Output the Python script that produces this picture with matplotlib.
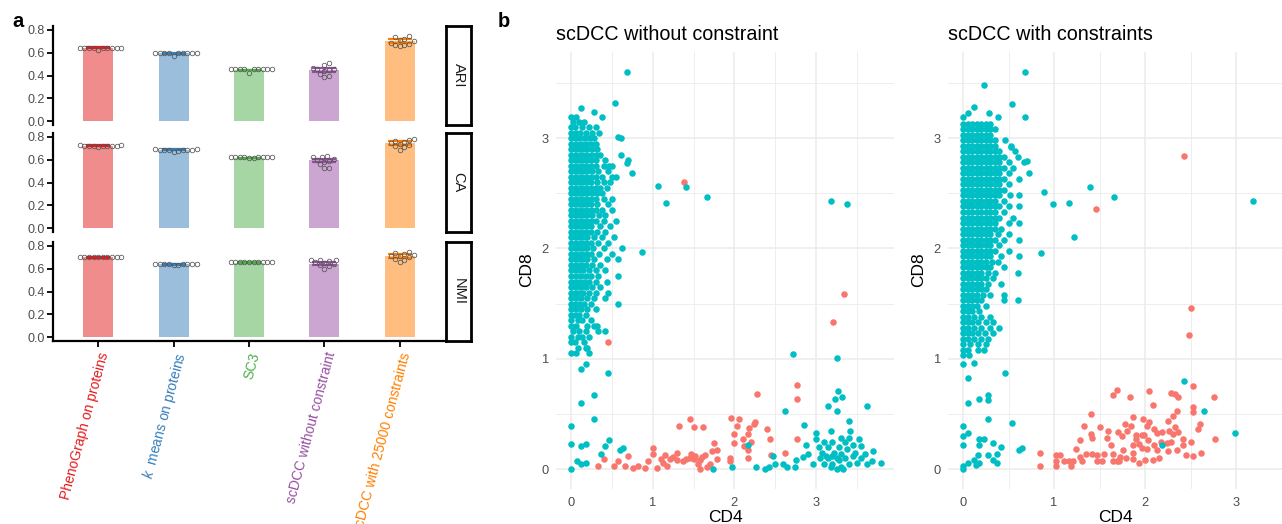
import numpy as np
import matplotlib
matplotlib.use("Agg")
import matplotlib.pyplot as plt

plt.rcParams['font.family'] = ['Liberation Sans', 'DejaVu Sans']
plt.rcParams['mathtext.fontset'] = 'custom'
plt.rcParams['mathtext.it'] = 'Liberation Sans:italic'
plt.rcParams['mathtext.rm'] = 'Liberation Sans'

W, H = 1282, 524

# ---------------- panel a data ----------------
methods = ["PhenoGraph on proteins", "$k$  means on proteins", "SC3",
           "scDCC without constraint", "scDCC with 25000 constraints"]
method_colors = ["#E41A1C", "#377EB8", "#4DAF4A", "#984EA3", "#FF7F00"]
metrics = ["ARI", "CA", "NMI"]

ari_mean = [0.644, 0.595, 0.448, 0.448, 0.703]
ca_mean = [0.723, 0.688, 0.615, 0.594, 0.747]
nmi_mean = [0.700, 0.639, 0.653, 0.645, 0.712]

ari_sd = [0.004, 0.004, 0.004, 0.015, 0.017]
ca_sd = [0.003, 0.004, 0.003, 0.014, 0.015]
nmi_sd = [0.003, 0.003, 0.003, 0.012, 0.015]

# per-run scores (10 runs per method)
ari_runs = [
    [0.645, 0.645, 0.646, 0.644, 0.645, 0.645, 0.646, 0.644, 0.645, 0.620],
    [0.595, 0.595, 0.596, 0.594, 0.595, 0.595, 0.596, 0.594, 0.595, 0.575],
    [0.455, 0.455, 0.456, 0.454, 0.455, 0.455, 0.456, 0.454, 0.455, 0.420],
    [0.510, 0.490, 0.465, 0.460, 0.455, 0.450, 0.440, 0.415, 0.400, 0.385],
    [0.750, 0.740, 0.720, 0.710, 0.700, 0.690, 0.680, 0.672, 0.665, 0.660],
]
ca_runs = [
    [0.725, 0.725, 0.726, 0.724, 0.725, 0.725, 0.726, 0.724, 0.725, 0.710],
    [0.690, 0.690, 0.691, 0.689, 0.690, 0.690, 0.691, 0.689, 0.680, 0.665],
    [0.622, 0.622, 0.623, 0.621, 0.622, 0.622, 0.623, 0.621, 0.618, 0.615],
    [0.630, 0.625, 0.620, 0.610, 0.600, 0.590, 0.580, 0.560, 0.530, 0.530],
    [0.780, 0.775, 0.765, 0.760, 0.750, 0.740, 0.730, 0.720, 0.710, 0.690],
]
nmi_runs = [
    [0.705, 0.705, 0.706, 0.704, 0.705, 0.705, 0.706, 0.704, 0.705, 0.700],
    [0.640, 0.640, 0.641, 0.639, 0.640, 0.640, 0.641, 0.639, 0.635, 0.630],
    [0.660, 0.660, 0.661, 0.659, 0.660, 0.660, 0.661, 0.659, 0.660, 0.658],
    [0.680, 0.680, 0.675, 0.670, 0.660, 0.650, 0.640, 0.630, 0.620, 0.600],
    [0.750, 0.740, 0.730, 0.720, 0.715, 0.710, 0.700, 0.690, 0.680, 0.660],
]

# ---------------- panel b data ----------------
# scDCC without constraint: dense CD8+ cluster, one row per CD8 level
wo_cluster_rows = [
    (3.19, [0.0, 0.06]),
    (3.15, [0.02, 0.1, 0.16]),
    (3.10, [0.0, 0.05, 0.14, 0.22, 0.3]),
    (3.05, [0.0, 0.06, 0.11, 0.18, 0.26, 0.34]),
    (3.00, [0.0, 0.05, 0.1, 0.16, 0.22, 0.28]),
    (2.95, [0.0, 0.06, 0.12, 0.18, 0.24, 0.3]),
    (2.90, [0.0, 0.05, 0.1, 0.15, 0.2, 0.26, 0.32]),
    (2.85, [0.0, 0.06, 0.12, 0.18, 0.24, 0.3, 0.36]),
    (2.80, [0.0, 0.05, 0.1, 0.15, 0.2, 0.25, 0.3, 0.42]),
    (2.75, [0.0, 0.06, 0.12, 0.18, 0.24, 0.3, 0.4, 0.46, 0.5]),
    (2.70, [0.0, 0.05, 0.1, 0.15, 0.2, 0.26, 0.33, 0.45]),
    (2.65, [0.0, 0.06, 0.12, 0.18, 0.24, 0.3, 0.38, 0.5, 0.55]),
    (2.60, [0.0, 0.05, 0.1, 0.15, 0.2, 0.25, 0.32, 0.4, 0.48]),
    (2.55, [0.0, 0.06, 0.12, 0.18, 0.24, 0.3, 0.36, 0.44]),
    (2.50, [0.0, 0.05, 0.1, 0.15, 0.2, 0.26, 0.32, 0.38]),
    (2.45, [0.0, 0.06, 0.12, 0.18, 0.24, 0.3, 0.4, 0.5]),
    (2.40, [0.0, 0.05, 0.1, 0.15, 0.2, 0.25, 0.32, 0.45]),
    (2.35, [0.0, 0.06, 0.12, 0.18, 0.24, 0.3, 0.38, 0.5]),
    (2.30, [0.0, 0.05, 0.1, 0.15, 0.2, 0.26, 0.34, 0.42]),
    (2.25, [0.0, 0.06, 0.12, 0.18, 0.24, 0.3, 0.4, 0.55]),
    (2.20, [0.0, 0.05, 0.1, 0.15, 0.2, 0.25, 0.35, 0.48]),
    (2.15, [0.0, 0.06, 0.12, 0.18, 0.24, 0.32, 0.42]),
    (2.10, [0.0, 0.05, 0.1, 0.15, 0.2, 0.28, 0.38, 0.52]),
    (2.05, [0.0, 0.06, 0.12, 0.18, 0.24, 0.33, 0.45]),
    (2.00, [0.0, 0.05, 0.1, 0.15, 0.2, 0.27, 0.4, 0.62]),
    (1.95, [0.0, 0.06, 0.12, 0.18, 0.24, 0.34, 0.5]),
    (1.90, [0.0, 0.05, 0.1, 0.15, 0.2, 0.28, 0.44, 0.58]),
    (1.85, [0.0, 0.06, 0.12, 0.18, 0.26, 0.36]),
    (1.80, [0.0, 0.05, 0.1, 0.15, 0.22, 0.3, 0.42]),
    (1.75, [0.0, 0.06, 0.12, 0.18, 0.25, 0.33, 0.58]),
    (1.70, [0.0, 0.05, 0.1, 0.16, 0.22, 0.3, 0.44]),
    (1.65, [0.0, 0.06, 0.12, 0.18, 0.26, 0.36]),
    (1.60, [0.0, 0.05, 0.1, 0.15, 0.22, 0.3, 0.45]),
    (1.55, [0.0, 0.06, 0.12, 0.2, 0.28, 0.42]),
    (1.50, [0.0, 0.05, 0.1, 0.16, 0.24, 0.58]),
    (1.45, [0.0, 0.06, 0.12, 0.2, 0.3]),
    (1.40, [0.0, 0.05, 0.1, 0.18]),
    (1.35, [0.0, 0.08, 0.14, 0.24]),
    (1.30, [0.0, 0.06, 0.2, 0.28, 0.32]),
    (1.25, [0.02, 0.1, 0.18, 0.33, 0.42]),
    (1.20, [0.0, 0.08, 0.14, 0.22]),
    (1.15, [0.0, 0.05, 0.16]),
    (1.10, [0.08, 0.18, 0.2]),
    (1.05, [0.0, 0.06, 0.22]),
]
wo_teal_pts = [
    (0.685, 3.6), (0.54, 3.32), (0.12, 3.27), (0.28, 3.24), (0.38, 3.19),
    (0.58, 3.01), (0.61, 3.0), (0.61, 2.85), (0.68, 2.77), (0.7, 2.8),
    (0.75, 2.68), (1.07, 2.57), (1.16, 2.41), (1.41, 2.56), (1.66, 2.47),
    (3.18, 2.43), (3.38, 2.4), (0.87, 1.97),
    (0.0, 0.0), (0.0, 0.23), (0.0, 0.39), (0.07, 0.07), (0.12, 0.05),
    (0.18, 0.06), (0.12, 0.21), (0.18, 0.23), (0.28, 0.45), (0.12, 0.6),
    (0.28, 0.67), (0.45, 0.87), (0.12, 0.91), (0.18, 0.95), (0.37, 0.14),
    (0.41, 0.21), (0.46, 0.26), (0.6, 0.17), (0.64, 0.19),
    (1.74, 0.0), (1.97, 0.02), (2.17, 0.22), (2.27, 0.02), (2.38, 0.0),
    (2.42, 0.02), (2.47, 0.12), (2.5, 0.05), (2.59, 0.05), (2.62, 0.53),
    (2.64, 0.02), (2.72, 1.04), (2.74, 0.02), (2.75, 0.08), (2.85, 0.4),
    (2.87, 0.22), (2.84, 0.11), (2.9, 0.14), (2.96, 0.05), (3.0, 0.33),
    (3.0, 0.27), (3.03, 0.2), (3.07, 0.15), (3.1, 0.25), (3.14, 0.57),
    (3.18, 0.35), (3.23, 0.64), (3.25, 0.53), (3.25, 1.01), (3.27, 0.71),
    (3.32, 0.65), (3.4, 0.44), (3.42, 0.35), (3.52, 0.27), (3.55, 0.21),
    (3.62, 0.57), (3.8, 0.06), (3.69, 0.16), (3.68, 0.07),
    (3.15, 0.1), (3.2, 0.05), (3.25, 0.0), (3.3, 0.02), (3.22, 0.15),
    (3.28, 0.2), (3.35, 0.1), (3.4, 0.05), (3.38, 0.18), (3.45, 0.12),
    (3.5, 0.06), (3.55, 0.1), (3.6, 0.14), (3.1, 0.05), (3.05, 0.1),
    (3.2, 0.25), (3.3, 0.28), (3.25, 0.1), (3.33, 0.0), (3.45, 0.22),
    (3.15, 0.2), (3.28, 0.08), (3.18, 0.02), (3.4, 0.28), (3.62, 0.05),
    (3.48, 0.15), (3.12, 0.12), (3.35, 0.25), (3.2, 0.12), (3.3, 0.14),
]
wo_red_pts = [
    (1.38, 2.6), (3.34, 1.59), (3.21, 1.33), (0.45, 1.15), (2.76, 0.76),
    (2.76, 0.64), (2.28, 0.68), (2.77, 0.27), (2.62, 0.15), (2.45, 0.13),
    (2.4, 0.36), (2.44, 0.27), (2.25, 0.43), (2.24, 0.41), (2.18, 0.37),
    (2.17, 0.32), (2.2, 0.25), (2.1, 0.27), (2.12, 0.21), (2.17, 0.17),
    (2.17, 0.1), (2.06, 0.45), (2.03, 0.39), (1.99, 0.32), (2.0, 0.24),
    (1.96, 0.46), (1.94, 0.1), (1.95, 0.07), (1.75, 0.24), (1.79, 0.17),
    (1.73, 0.16), (1.79, 0.09), (1.61, 0.38), (1.5, 0.38), (1.46, 0.45),
    (1.32, 0.39), (1.3, 0.15), (1.58, 0.0), (1.66, 0.02), (1.64, 0.13),
    (1.6, 0.11), (1.52, 0.12), (1.47, 0.14), (1.45, 0.1), (1.41, 0.09),
    (1.37, 0.07), (1.25, 0.11), (1.21, 0.09), (1.15, 0.13), (1.1, 0.09),
    (1.17, 0.03), (1.05, 0.01), (1.0, 0.19), (1.0, 0.14), (0.94, 0.07),
    (0.9, 0.01), (0.82, 0.03), (0.76, 0.01), (0.7, 0.12), (0.66, 0.03),
    (0.58, 0.07), (0.52, 0.03), (0.4, 0.09), (0.33, 0.03), (1.5, 0.09),
    (1.58, 0.08), (1.3, 0.08), (1.7, 0.05), (1.55, 0.05), (1.12, 0.06),
]

# scDCC with constraints
w_cluster_rows = [
    (3.13, [0.0, 0.05, 0.1, 0.15, 0.2, 0.25, 0.3]),
    (3.08, [0.0, 0.05, 0.1, 0.15, 0.2, 0.25, 0.3, 0.35]),
    (3.03, [0.0, 0.05, 0.1, 0.15, 0.2, 0.25, 0.3]),
    (2.98, [0.0, 0.05, 0.1, 0.15, 0.2, 0.25, 0.3, 0.35, 0.46]),
    (2.93, [0.0, 0.05, 0.1, 0.15, 0.2, 0.25, 0.3, 0.35, 0.53]),
    (2.88, [0.0, 0.05, 0.1, 0.15, 0.2, 0.25, 0.3, 0.35, 0.4, 0.57]),
    (2.83, [0.0, 0.05, 0.1, 0.15, 0.2, 0.25, 0.3, 0.35, 0.4, 0.45, 0.6]),
    (2.78, [0.0, 0.05, 0.1, 0.15, 0.2, 0.25, 0.3, 0.35, 0.4, 0.5, 0.67]),
    (2.73, [0.0, 0.05, 0.1, 0.15, 0.2, 0.25, 0.3, 0.35, 0.4, 0.45, 0.55]),
    (2.68, [0.0, 0.05, 0.1, 0.15, 0.2, 0.25, 0.3, 0.35, 0.4, 0.5, 0.73]),
    (2.63, [0.0, 0.05, 0.1, 0.15, 0.2, 0.25, 0.3, 0.35, 0.4, 0.45, 0.61]),
    (2.58, [0.0, 0.05, 0.1, 0.15, 0.2, 0.25, 0.3, 0.35, 0.4, 0.5]),
    (2.53, [0.0, 0.05, 0.1, 0.15, 0.2, 0.25, 0.3, 0.35, 0.4, 0.45]),
    (2.48, [0.0, 0.05, 0.1, 0.15, 0.2, 0.25, 0.3, 0.35, 0.4, 0.52, 0.61]),
    (2.43, [0.0, 0.05, 0.1, 0.15, 0.2, 0.25, 0.3, 0.35, 0.45]),
    (2.38, [0.0, 0.05, 0.1, 0.15, 0.2, 0.25, 0.3, 0.35, 0.4, 0.5, 0.61]),
    (2.33, [0.0, 0.05, 0.1, 0.15, 0.2, 0.25, 0.3, 0.35, 0.45]),
    (2.28, [0.0, 0.05, 0.1, 0.15, 0.2, 0.25, 0.3, 0.35, 0.4, 0.55]),
    (2.23, [0.0, 0.05, 0.1, 0.15, 0.2, 0.25, 0.3, 0.35, 0.5, 0.61]),
    (2.18, [0.0, 0.05, 0.1, 0.15, 0.2, 0.25, 0.3, 0.35, 0.42]),
    (2.13, [0.0, 0.05, 0.1, 0.15, 0.2, 0.25, 0.3, 0.38, 0.5]),
    (2.08, [0.0, 0.05, 0.1, 0.15, 0.2, 0.25, 0.3, 0.35, 0.45, 0.61]),
    (2.03, [0.0, 0.05, 0.1, 0.15, 0.2, 0.25, 0.3, 0.4]),
    (1.98, [0.0, 0.05, 0.1, 0.15, 0.2, 0.25, 0.3, 0.35, 0.5]),
    (1.93, [0.0, 0.05, 0.1, 0.15, 0.2, 0.25, 0.3, 0.42, 0.61]),
    (1.88, [0.0, 0.05, 0.1, 0.15, 0.2, 0.25, 0.32, 0.38]),
    (1.83, [0.0, 0.05, 0.1, 0.15, 0.2, 0.25, 0.3, 0.45]),
    (1.78, [0.0, 0.05, 0.1, 0.15, 0.2, 0.27, 0.35, 0.6]),
    (1.73, [0.0, 0.05, 0.1, 0.15, 0.2, 0.25, 0.33]),
    (1.68, [0.0, 0.05, 0.1, 0.15, 0.2, 0.28, 0.42]),
    (1.63, [0.0, 0.05, 0.1, 0.15, 0.2, 0.25]),
    (1.58, [0.0, 0.05, 0.1, 0.15, 0.22, 0.3, 0.45]),
    (1.53, [0.0, 0.05, 0.1, 0.15, 0.2, 0.45, 0.6]),
    (1.48, [0.0, 0.05, 0.1, 0.15, 0.25]),
    (1.43, [0.0, 0.05, 0.1, 0.18]),
    (1.38, [0.0, 0.06, 0.12, 0.2, 0.3]),
    (1.33, [0.0, 0.05, 0.1, 0.16, 0.25, 0.33]),
    (1.28, [0.0, 0.06, 0.12, 0.2, 0.3, 0.4]),
    (1.23, [0.0, 0.05, 0.1, 0.16, 0.24, 0.33]),
    (1.18, [0.0, 0.06, 0.12, 0.2, 0.28]),
    (1.13, [0.0, 0.08, 0.16, 0.25]),
    (1.08, [0.0, 0.06, 0.16, 0.23]),
    (1.03, [0.0, 0.07]),
]
w_teal_pts = [
    (0.68, 3.6), (0.23, 3.48), (0.54, 3.31), (0.68, 3.19), (0.12, 3.28),
    (0.29, 3.23), (0.38, 3.19), (0.06, 3.23), (0.0, 3.19), (0.53, 2.92),
    (0.7, 2.79), (0.89, 2.51), (0.99, 2.4), (1.16, 2.41), (1.39, 2.56),
    (1.66, 2.47), (1.22, 2.1), (0.86, 1.96), (3.18, 2.43),
    (0.0, 0.005), (0.0, 0.03), (0.0, 0.22), (0.0, 0.3), (0.0, 0.39),
    (0.06, 0.33), (0.06, 0.06), (0.12, 0.08), (0.14, 0.04), (0.18, 0.06),
    (0.17, 0.13), (0.18, 0.22), (0.18, 0.27), (0.23, 0.27), (0.28, 0.13),
    (0.28, 0.45), (0.28, 0.63), (0.28, 0.67), (0.18, 0.64), (0.06, 0.6),
    (0.06, 0.83), (0.0, 0.95), (0.12, 0.96), (0.46, 0.87), (0.33, 0.24),
    (0.33, 0.08), (0.37, 0.06), (0.37, 0.14), (0.42, 0.2), (0.54, 0.42),
    (0.61, 0.17), (0.65, 0.19), (2.18, 0.22), (2.43, 0.8), (2.64, 0.53),
    (2.98, 0.33),
]
w_red_pts = [
    (2.43, 2.84), (1.46, 2.36),
    (2.5, 1.46), (2.48, 1.22), (2.52, 0.75), (2.04, 0.71), (1.69, 0.72),
    (1.65, 0.67), (1.83, 0.65), (2.28, 0.69), (2.33, 0.68), (2.36, 0.65),
    (2.75, 0.65), (2.08, 0.58), (2.52, 0.56), (2.52, 0.52), (2.35, 0.53),
    (2.3, 0.48), (2.25, 0.44), (1.41, 0.5), (1.87, 0.47), (1.78, 0.41),
    (1.84, 0.39), (1.33, 0.39), (1.5, 0.38), (1.59, 0.35), (1.7, 0.34),
    (1.8, 0.35), (1.98, 0.45), (2.02, 0.39), (2.04, 0.43), (2.1, 0.36),
    (2.18, 0.34), (2.26, 0.35), (2.33, 0.38), (2.36, 0.34), (2.41, 0.27),
    (2.5, 0.25), (2.58, 0.36), (2.6, 0.41), (2.76, 0.27), (2.61, 0.15),
    (2.52, 0.12), (2.45, 0.13), (2.35, 0.17), (2.25, 0.16), (2.17, 0.25),
    (2.1, 0.22), (2.13, 0.17), (2.09, 0.08), (2.0, 0.08), (1.93, 0.06),
    (1.96, 0.31), (1.93, 0.23), (1.86, 0.22), (1.86, 0.15), (1.86, 0.09),
    (1.79, 0.1), (1.76, 0.17), (1.72, 0.11), (1.69, 0.07), (1.65, 0.14),
    (1.62, 0.22), (1.58, 0.28), (1.55, 0.14), (1.52, 0.07), (1.47, 0.07),
    (1.47, 0.13), (1.42, 0.14), (1.4, 0.32), (1.42, 0.28), (1.35, 0.14),
    (1.31, 0.07), (1.28, 0.11), (1.24, 0.18), (1.28, 0.26), (1.21, 0.07),
    (1.19, 0.03), (1.16, 0.07), (1.11, 0.07), (1.07, 0.13), (1.02, 0.13),
    (1.02, 0.07), (1.02, 0.03), (0.84, 0.15), (0.84, 0.03), (1.65, 0.07),
    (1.71, 0.07), (1.9, 0.31), (1.99, 0.31), (2.03, 0.26), (2.13, 0.33),
    (2.24, 0.24), (2.28, 0.25), (2.3, 0.32), (2.02, 0.18), (1.96, 0.19),
    (2.15, 0.1), (2.41, 0.22), (1.75, 0.3), (1.9, 0.27),
]

TEAL = "#00BFC4"
SALMON = "#F8766D"
GRID = "#EBEBEB"
TICK_GREY = "#4D4D4D"


def px_box(l, t, r, b):
    """pixel box -> figure fraction rect"""
    return [l / W, 1 - b / H, (r - l) / W, (b - t) / H]


def swarm_offsets(vals, x_ppu, y_ppu, d=4.6):
    """simple beeswarm: horizontal offsets (data units) so circles don't overlap"""
    order = np.argsort(vals)
    placed = []
    offs = np.zeros(len(vals))
    for i in order:
        yp = vals[i] * y_ppu
        for k in range(40):
            step = ((k + 1) // 2) * (1 if k % 2 else -1) * d * 0.5
            ok = all((step - px) ** 2 + (yp - py) ** 2 >= d * d for px, py in placed)
            if ok:
                placed.append((step, yp))
                offs[i] = step / x_ppu
                break
    return offs


def cluster_points(rows, extra):
    xs, ys = [], []
    for y, row in rows:
        for x in row:
            xs.append(x)
            ys.append(y)
    for x, y in extra:
        xs.append(x)
        ys.append(y)
    return np.array(xs), np.array(ys)


fig = plt.figure(figsize=(W / 100, H / 100), dpi=100)

# ---------------- panel a ----------------
facet_px = [(26, 125), (133, 232), (242, 341)]
means = [ari_mean, ca_mean, nmi_mean]
sds = [ari_sd, ca_sd, nmi_sd]
runs = [ari_runs, ca_runs, nmi_runs]
xs = np.arange(1, 6)

for i, metric in enumerate(metrics):
    t, b = facet_px[i]
    ax = fig.add_axes(px_box(53, t, 445, b))
    ax.bar(xs, means[i], width=0.4, color=method_colors, alpha=0.5, zorder=1)
    for j in range(5):
        ax.errorbar(xs[j], means[i][j], yerr=sds[i][j], fmt='none',
                    ecolor=method_colors[j], elinewidth=1.4, capsize=8.3,
                    capthick=1.6, zorder=2)
        vals = np.array(runs[i][j])
        offs = swarm_offsets(vals, 75.5, 113.75)
        ax.plot(xs[j] + offs, vals, 'o', ms=3.3, mfc='none', mec='#555555',
                mew=0.55, zorder=3)
    ax.set_xlim(0.4, 5.6)
    ax.set_ylim(-0.035, 0.835)
    ax.set_yticks([0, 0.2, 0.4, 0.6, 0.8])
    ax.set_yticklabels(["0.0", "0.2", "0.4", "0.6", "0.8"])
    ax.tick_params(axis='y', length=4, width=1.3, pad=2, labelsize=9,
                   labelcolor=TICK_GREY)
    for s in ['top', 'right']:
        ax.spines[s].set_visible(False)
    ax.spines['left'].set_linewidth(1.6)
    if i < 2:
        ax.spines['bottom'].set_visible(False)
        ax.set_xticks([])
    else:
        ax.spines['bottom'].set_linewidth(1.6)
        ax.set_xticks(xs)
        ax.set_xticklabels(methods, rotation=75, ha='right', va='top',
                           rotation_mode='anchor', fontsize=10)
        for lab, c in zip(ax.get_xticklabels(), method_colors):
            lab.set_color(c)
        ax.tick_params(axis='x', length=4, width=1.3, pad=3)

    sax = fig.add_axes(px_box(446, t, 471, b))
    sax.set_xticks([])
    sax.set_yticks([])
    for s in sax.spines.values():
        s.set_linewidth(2)
        s.set_color('black')
    sax.text(0.5, 0.5, metric, rotation=-90, ha='center', va='center',
             fontsize=10.5, color='#1A1A1A', transform=sax.transAxes)

fig.text(12 / W, 1 - 27 / H, "a", fontsize=14.5, fontweight='bold', va='baseline')
fig.text(498 / W, 1 - 27 / H, "b", fontsize=14.5, fontweight='bold', va='baseline')

# ---------------- panel b ----------------
panels = [
    ("scDCC without constraint", (556, 52, 894, 489), (-0.184, 3.953),
     wo_cluster_rows, wo_teal_pts, wo_red_pts, 527),
    ("scDCC with constraints", (948, 52, 1282, 489), (-0.164, 3.255),
     w_cluster_rows, w_teal_pts, w_red_pts, 919),
]
for title, (l, t, r, b), xlim, rows, teal, red, ylab_x in panels:
    ax = fig.add_axes(px_box(l, t, r, b))
    tx, ty = cluster_points(rows, teal)
    rx = np.array([p[0] for p in red])
    ry = np.array([p[1] for p in red])
    ax.scatter(rx, ry, s=22, color=SALMON, linewidths=0, zorder=2)
    ax.scatter(tx, ty, s=22, color=TEAL, linewidths=0, zorder=3)
    ax.set_xlim(*xlim)
    ax.set_ylim(-0.18, 3.78)
    ax.set_xticks([0, 1, 2, 3])
    ax.set_yticks([0, 1, 2, 3])
    ax.set_xticks([0.5, 1.5, 2.5, 3.5], minor=True)
    ax.set_yticks([0.5, 1.5, 2.5, 3.5], minor=True)
    ax.grid(which='major', color=GRID, lw=1.1)
    ax.grid(which='minor', color=GRID, lw=0.6)
    ax.set_axisbelow(True)
    ax.tick_params(which='both', length=0, labelsize=9.3, labelcolor=TICK_GREY)
    ax.tick_params(axis='x', pad=6)
    ax.tick_params(axis='y', pad=5)
    for s in ax.spines.values():
        s.set_visible(False)
    fig.text(l / W, 1 - 40 / H, title, fontsize=14.2, va='baseline')
    fig.text(ylab_x / W, 1 - 270 / H, "CD8", fontsize=12.5, rotation=90,
             ha='center', va='center')
    fig.text((l + r) / 2 / W, 1 - 522 / H, "CD4", fontsize=12.5,
             ha='center', va='baseline')

fig.savefig("out.png", dpi=100)
